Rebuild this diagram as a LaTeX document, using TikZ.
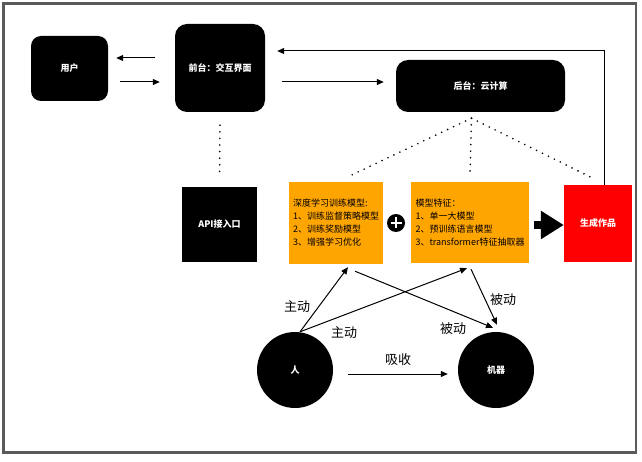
\documentclass[tikz,border=0pt]{standalone}
\usepackage{fontspec}
\setmainfont{Noto Sans CJK SC}
\usetikzlibrary{arrows.meta}
\definecolor{boxorange}{RGB}{255,165,0}
\definecolor{framegray}{RGB}{90,90,90}

\begin{document}
\begin{tikzpicture}[x=1pt, y=-1pt,
		blackbox/.style={fill=black, text=white, font=\fontsize{9}{11}\selectfont\bfseries, inner sep=0pt},
		orangebox/.style={fill=boxorange, text=black, font=\fontsize{9}{13}\selectfont, align=left, inner sep=0pt},
		arr/.style={-{Triangle[length=7pt,width=6pt]}, line width=1pt},
		dotline/.style={line width=1.8pt, dash pattern=on 0pt off 6.6pt, line cap=round},
		arrtext/.style={font=\fontsize{13}{15}\selectfont}]
			\useasboundingbox (0,0) rectangle (642,462);
			\draw[framegray, line width=2.5pt] (3.5,3.5) rectangle (636,452.5);

			\node[blackbox, rounded corners=10pt, minimum width=77pt, minimum height=65pt] (yonghu) at (69.5,68.5) {用户};
			\node[blackbox, rounded corners=12pt, minimum width=90pt, minimum height=88pt] (qiantai) at (220,68) {前台：交互界面};
			\node[blackbox, rounded corners=12pt, minimum width=169pt, minimum height=52pt] (houtai) at (480.5,86) {后台：云计算};
			\node[blackbox, minimum width=75pt, minimum height=75pt] (api) at (219.5,224.5) {API接入口};
			\node[orangebox, minimum width=94pt, minimum height=82pt] (xunlian) at (336,223)
				{深度学习训练模型:\\1、训练监督策略模型\\2、训练奖励模型\\3、增强学习优化};
			\node[orangebox, minimum width=118pt, minimum height=81pt] (tezheng) at (470,222.5)
				{模型特征：\\1、单一大模型\\2、预训练语言模型\\3、transformer特征抽取器};
			\node[blackbox, fill=red, minimum width=68pt, minimum height=77pt] (zuopin) at (598,223.5) {生成作品};
			\node[blackbox, circle, minimum size=76pt] (ren) at (295,370) {人};
			\node[blackbox, circle, minimum size=76pt] (jiqi) at (496,370) {机器};

			\node[circle, fill=black, minimum size=18pt, inner sep=0pt] (jia) at (396,223) {};
			\draw[white, line width=2.4pt]
				([xshift=-5.5pt]jia.center) -- ([xshift=5.5pt]jia.center)
				([yshift=-5.5pt]jia.center) -- ([yshift=5.5pt]jia.center)
			;

			\draw[arr, shorten <=20pt, shorten >=8pt] ([yshift=10pt]qiantai.west) -- ([yshift=10pt]qiantai.west -| yonghu.east);
			\draw[arr, shorten <=12pt, shorten >=15pt] ([yshift=-14pt]qiantai.west -| yonghu.east) -- ([yshift=-14pt]qiantai.west);
			\draw[arr, shorten <=17pt, shorten >=12pt] ([yshift=-14pt]qiantai.east) -- ([yshift=-14pt]qiantai.east -| houtai.west);
			\draw[arr, shorten >=12pt] ([xshift=6pt]zuopin.north) |- ([yshift=17pt]qiantai.east);

			\draw[dotline, shorten <=13pt, shorten >=14pt] (qiantai.south) -- (api.north);
			\coordinate (fenzhi) at ([xshift=-9pt,yshift=-6pt]houtai.south);
			\draw[dotline] (fenzhi) -- ([xshift=16pt,yshift=7pt]xunlian.north);
			\draw[dotline] (fenzhi) -- ([yshift=7pt]tezheng.north);
			\draw[dotline] (fenzhi) -- ([xshift=-6pt,yshift=7pt]zuopin.north);

			\draw[line width=7.5pt, -{Triangle[length=23pt,width=27pt]}, shorten <=5pt] ([yshift=-2.5pt]tezheng.east) -- ([yshift=-2.5pt]tezheng.east -| zuopin.west);

			\draw[arr] ([xshift=5pt]ren.north) -- ([xshift=12pt,yshift=-3pt]xunlian.south);
			\draw[arr] ([xshift=5pt]ren.north) -- ([xshift=-3pt,yshift=-5pt]tezheng.south);
			\draw[arr] ([xshift=19pt,yshift=-7pt]xunlian.south) -- ([xshift=-3pt,yshift=4pt]jiqi.north);
			\draw[arr] ([xshift=1pt,yshift=-6pt]tezheng.south) -- ([xshift=1pt,yshift=7pt]jiqi.north);
			\draw[arr, shorten <=15pt, shorten >=10pt] ([yshift=-4pt]ren.east) -- ([yshift=-4pt]jiqi.west);

			\node[arrtext] (zhudong1) at (297,307) {主动};
			\node[arrtext] (zhudong2) at (344,333) {主动};
			\node[arrtext] (beidong1) at (503,300) {被动};
			\node[arrtext] (beidong2) at (453,329) {被动};
			\node[arrtext] (xishou) at (398,360) {吸收};
		\end{tikzpicture}
\end{document}
